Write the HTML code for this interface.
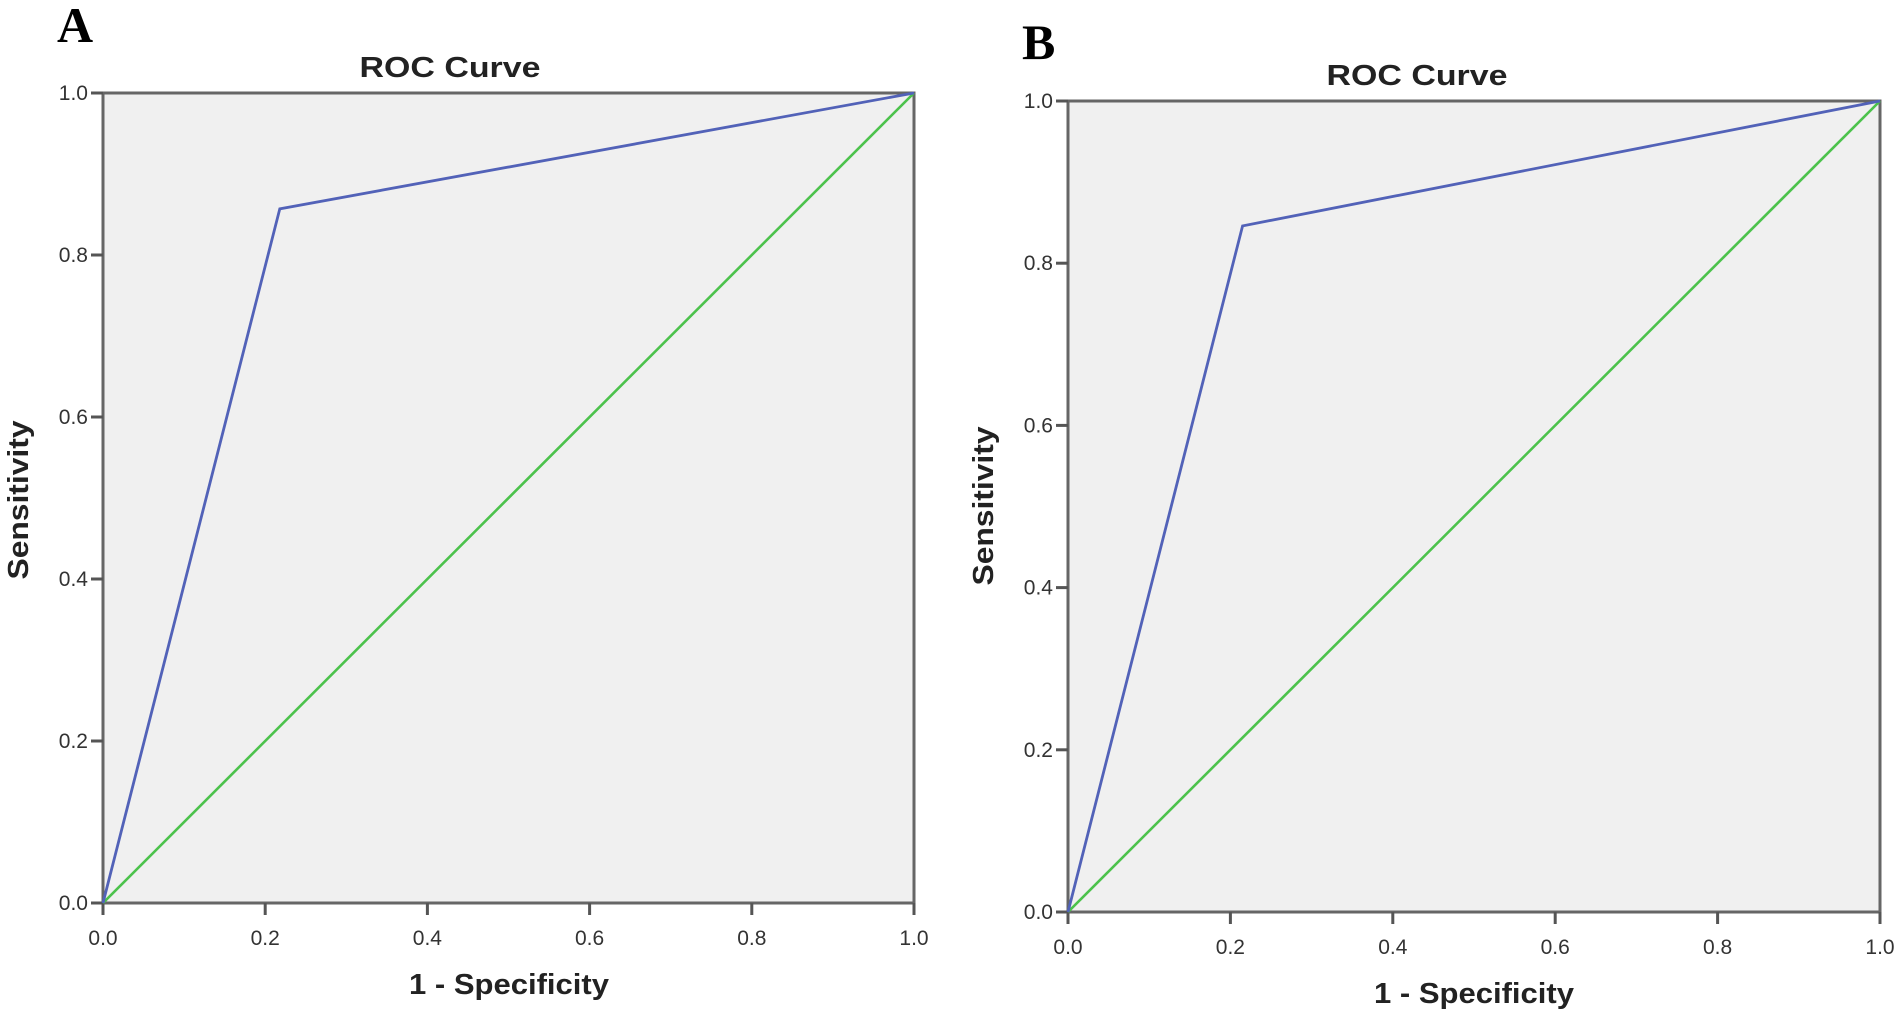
<!DOCTYPE html>
<html><head><meta charset="utf-8"><style>
html,body{margin:0;padding:0;background:#fff;}
svg{display:block;font-family:"Liberation Sans",Arial,sans-serif;}
</style></head><body>
<svg id="fig" width="1902" height="1016"></svg>
<script>
const tickValues=[0,0.2,0.4,0.6,0.8,1.0];
const tickLabels=["0.0","0.2","0.4","0.6","0.8","1.0"];
const rocA_x=[0,0.218,1];
const rocA_y=[0,0.857,1];
const rocB_x=[0,0.215,1];
const rocB_y=[0,0.846,1];
const refX=[0,1];
const refY=[0,1];
const panels=[
 {id:'a',letter:'A',lx:57,ly:42,x0:103,x1:914,y0:903,y1:93,tx:450,ty:77,cx:rocA_x,cy:rocA_y,xlx:509,xly:994,ylx:28,yly:500},
 {id:'b',letter:'B',lx:1022,ly:59,x0:1068,x1:1880,y0:912,y1:101,tx:1417,ty:85,cx:rocB_x,cy:rocB_y,xlx:1474,xly:1003,ylx:993,yly:506}
];
const NS='http://www.w3.org/2000/svg';
const svg=document.getElementById('fig');
function mk(tag,attrs,parent){const e=document.createElementNS(NS,tag);for(const k in attrs)e.setAttribute(k,attrs[k]);(parent||svg).appendChild(e);return e;}
panels.forEach(p=>{
 const sx=v=>p.x0+v*(p.x1-p.x0);
 const sy=v=>p.y0+v*(p.y1-p.y0);
 const g=mk('g',{});
 
 
 let t=mk('text',{x:p.lx,y:p.ly,'font-family':'"Liberation Serif",serif','font-weight':'bold','font-size':50,fill:'#000'},g);
 t.textContent=p.letter;
 
 
 t=mk('text',{x:p.tx,y:p.ty,'text-anchor':'middle','font-weight':'bold','font-size':29,fill:'#222',textLength:181,lengthAdjust:'spacingAndGlyphs'},g);
 t.textContent='ROC Curve';
 
 
 const bg=mk('rect',{x:p.x0,y:p.y1,width:p.x1-p.x0,height:p.y0-p.y1,fill:'#f0f0f0',stroke:'#666','stroke-width':3},g);
 
 
 tickValues.forEach((v,i)=>{
  const l1=mk('line',{x1:sx(v),x2:sx(v),y1:p.y0,y2:p.y0+12,stroke:'#555','stroke-width':3},g);
  
  
  const tl=mk('text',{x:sx(v),y:p.y0+42,'text-anchor':'middle','font-size':21,fill:'#333'},g);
  tl.textContent=tickLabels[i];
  
  
  const l2=mk('line',{x1:p.x0-12,x2:p.x0,y1:sy(v),y2:sy(v),stroke:'#555','stroke-width':3},g);
  
  
  const yl=mk('text',{x:p.x0-15,y:sy(v)+7,'text-anchor':'end','font-size':21,fill:'#333'},g);
  yl.textContent=tickLabels[i];
  
  
 });
 const ref=mk('polyline',{points:refX.map((x,i)=>sx(x)+','+sy(refY[i])).join(' '),fill:'none',stroke:'#4cc24c','stroke-width':2.6},g);
 
 
 const roc=mk('polyline',{points:p.cx.map((x,i)=>sx(x)+','+sy(p.cy[i])).join(' '),fill:'none',stroke:'#5262b8','stroke-width':2.8},g);
 
 
 t=mk('text',{x:p.xlx,y:p.xly,'text-anchor':'middle','font-weight':'bold','font-size':29,fill:'#222',textLength:200,lengthAdjust:'spacingAndGlyphs'},g);
 t.textContent='1 - Specificity';
 
 
 t=mk('text',{x:0,y:0,'text-anchor':'middle','font-weight':'bold','font-size':29,fill:'#222',textLength:159,lengthAdjust:'spacingAndGlyphs',transform:'translate('+p.ylx+','+p.yly+') rotate(-90)'},g);
 t.textContent='Sensitivity';
 
 
});
</script>
</body></html>
